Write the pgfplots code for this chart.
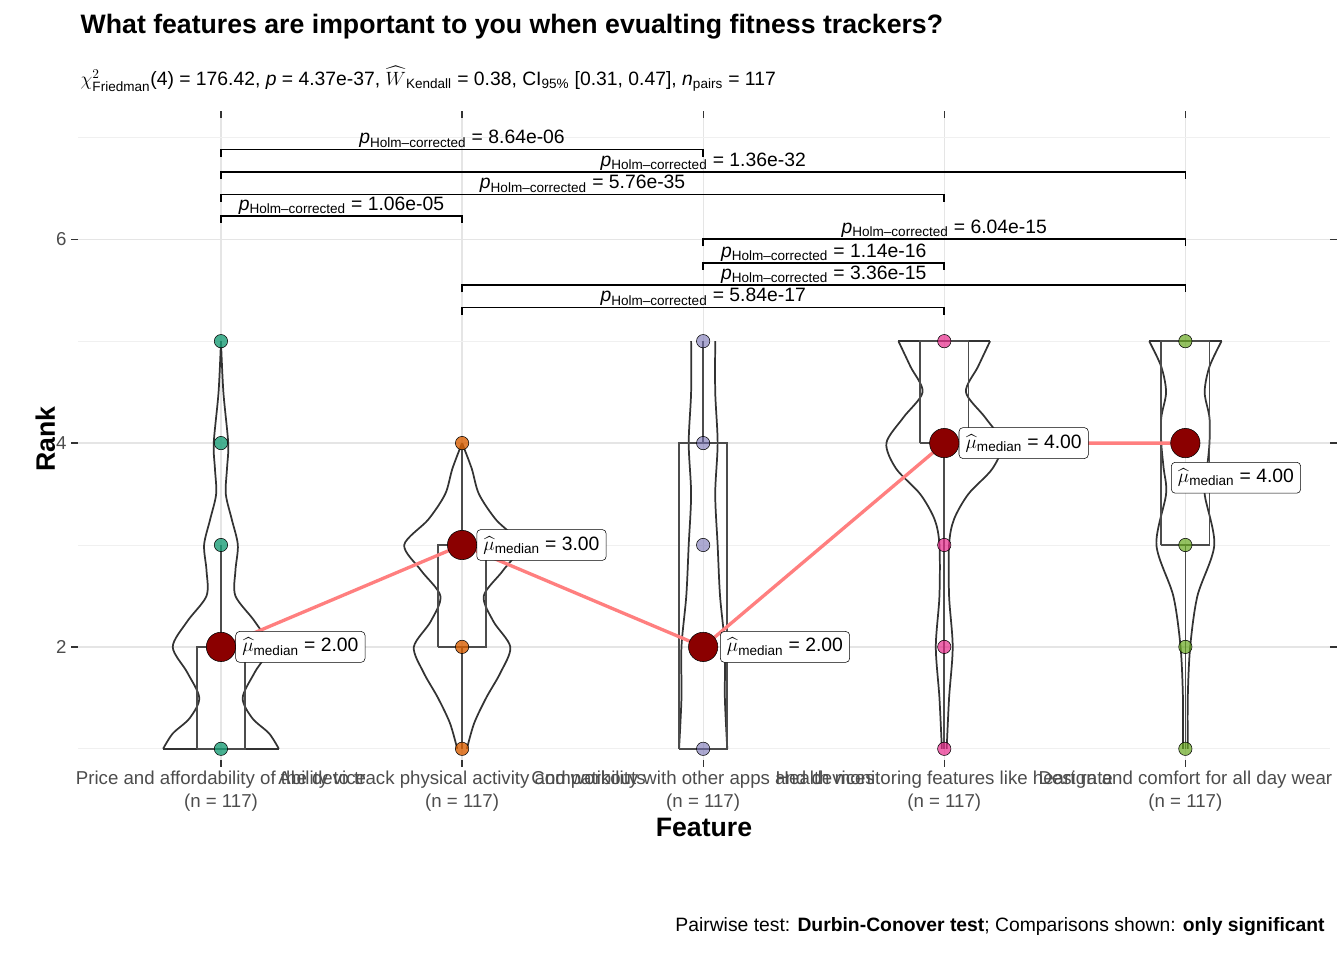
\documentclass[border=0pt]{standalone}
\usepackage{pgfplots}
\pgfplotsset{compat=1.18}
\usepackage{pgfplotstable}
\usepackage{amsmath}
\usepackage{fontspec}
\setmainfont{Liberation Sans}
\definecolor{cA}{HTML}{1B9E77}\definecolor{cB}{HTML}{D95F02}\definecolor{cC}{HTML}{7570B3}
\definecolor{cD}{HTML}{E7298A}\definecolor{cE}{HTML}{66A61E}
\definecolor{dred}{HTML}{8B0000}\definecolor{lred}{HTML}{FF7F7F}
\definecolor{vline}{HTML}{333333}
\pgfplotstableread{
y hw
1 .24
1.15 .2
1.3 .13
1.5 .09
1.75 .14
2 .2
2.25 .14
2.5 .06
2.75 .06
3 .07
3.25 .045
3.5 .02
3.75 .025
4 .03
4.5 .01
5 0
}\vA
\pgfplotstableread{
y hw
1 .02
1.25 .05
1.5 .1
1.75 .16
2 .2
2.25 .13
2.5 .09
2.75 .17
3 .24
3.25 .14
3.5 .07
3.75 .04
4 0
}\vB
\pgfplotstableread{
y hw
1 .1
1.5 .09
2 .09
2.5 .07
3 .06
3.5 .05
4 .06
4.5 .05
5 .05
}\vC
\pgfplotstableread{
y hw
1 .01
1.5 .02
2 .035
2.5 .02
3 .02
3.25 .04
3.5 .1
3.75 .2
4 .24
4.25 .17
4.5 .09
4.75 .14
5 .19
}\vD
\pgfplotstableread{
y hw
1 .01
1.5 .01
2 .02
2.5 .05
3 .12
3.5 .08
3.75 .09
4 .1
4.25 .1
4.5 .08
4.75 .1
5 .15
}\vE
\newcommand{\violin}[2]{%
 \addplot[vline,line width=1.3pt,smooth] table[x expr=#1+\thisrow{hw},y=y]{#2};
 \addplot[vline,line width=1.3pt,smooth] table[x expr=#1-\thisrow{hw},y=y]{#2};}
\newcommand{\pl}[1]{\textit{p}\textsubscript{Holm--corrected} = #1}
\newcommand{\mlab}[1]{$\widehat{\mu}$\textsubscript{median} = #1}
\begin{document}
\begin{tikzpicture}
\path (0pt,0pt) rectangle (1008pt,-720pt);
\node[anchor=west,font=\bfseries\fontsize{20}{24}\selectfont] at (57pt,-20pt) {What features are important to you when evualting fitness trackers?};
\node[anchor=west,font=\fontsize{14.5}{17}\selectfont] at (57pt,-59pt) {$\chi^2_{\text{Friedman}}$(4) = 176.42, \textit{p} = 4.37e-37, $\widehat{W}$\textsubscript{Kendall} = 0.38, CI\textsubscript{95\%} [0.31, 0.47], \textit{n}\textsubscript{pairs} = 117};
\node[anchor=east,font=\fontsize{14.5}{17}\selectfont] at (997pt,-695pt) {Pairwise test: \textbf{Durbin-Conover test}; Comparisons shown: \textbf{only significant}};
\begin{axis}[at={(58.5pt,-570pt)},anchor=south west,scale only axis,width=939pt,height=481.5pt,
 xmin=0.407,xmax=5.6,ymin=0.89,ymax=7.19,axis line style={draw=none},
 /pgf/number format/assume math mode=true,
 xtick={1,2,3,4,5},
 xticklabels={{Price and affordability of the device}\\(n = 117),{Ability to track physical activity and workouts}\\(n = 117),{Compatibility with other apps and devices}\\(n = 117),{Health monitoring features like heart rate}\\(n = 117),{Design and comfort for all day wear}\\(n = 117)},
 xticklabel style={align=center,text=black!70,font=\fontsize{14}{17}\selectfont},
 ytick={2,4,6},minor ytick={1,3,5,7},
 yticklabel style={text=black!70,font=\fontsize{14}{17}\selectfont},
 grid=both,major grid style={black!10,line width=1pt},minor grid style={black!6,line width=0.7pt},
 tick style={black!80,line width=1pt},major tick length=5pt,minor tick length=0pt,tick align=outside,
 xlabel={\bfseries Feature},ylabel={\bfseries Rank},
 label style={font=\fontsize{20}{24}\selectfont},
 ylabel style={yshift=-6pt},xlabel style={yshift=2pt},
 clip=false]
\violin{1}{\vA}\violin{2}{\vB}\violin{3}{\vC}\violin{4}{\vD}\violin{5}{\vE}
\addplot[vline,line width=1.3pt] coordinates {(0.76,1)(1.24,1)};
\addplot[vline,line width=1.3pt] coordinates {(2.9,1)(3.1,1)};
\addplot[vline,line width=1.3pt] coordinates {(3.81,5)(4.19,5)};
\addplot[vline,line width=1.3pt] coordinates {(4.85,5)(5.15,5)};
\addplot[black!70,line width=1.3pt] coordinates {(0.9,1)(1.1,1)(1.1,2)(0.9,2)(0.9,1)};
\addplot[black!70,line width=1.3pt] coordinates {(1,2)(1,3)};
\addplot[black!70,line width=1.3pt] coordinates {(1.9,2)(2.1,2)(2.1,3)(1.9,3)(1.9,2)};
\addplot[black!70,line width=1.3pt] coordinates {(2,1)(2,2)}; \addplot[black!70,line width=1.3pt] coordinates {(2,3)(2,4)};
\addplot[black!70,line width=1.3pt] coordinates {(2.9,1)(3.1,1)(3.1,4)(2.9,4)(2.9,1)};
\addplot[black!70,line width=1.3pt] coordinates {(3,4)(3,5)};
\addplot[black!70,line width=1.3pt] coordinates {(3.9,4)(4.1,4)(4.1,5)(3.9,5)(3.9,4)};
\addplot[black!70,line width=1.3pt] coordinates {(4,4)(4,1)};
\addplot[black!70,line width=1.3pt] coordinates {(4.9,3)(5.1,3)(5.1,5)(4.9,5)(4.9,3)};
\addplot[black!70,line width=1.3pt] coordinates {(5,3)(5,1)};
\addplot[only marks,mark=*,mark size=5pt,draw=none,fill=cA,fill opacity=0.8] coordinates {(1,1)(1,2)(1,3)(1,4)(1,5)};
\addplot[only marks,mark=*,mark size=5pt,draw=none,fill=cB,fill opacity=0.8] coordinates {(2,1)(2,2)(2,3)(2,4)};
\addplot[only marks,mark=*,mark size=5pt,draw=none,fill=cC,fill opacity=0.6] coordinates {(3,1)(3,2)(3,3)(3,4)(3,5)};
\addplot[only marks,mark=*,mark size=5pt,draw=none,fill=cD,fill opacity=0.7] coordinates {(4,1)(4,2)(4,3)(4,4)(4,5)};
\addplot[only marks,mark=*,mark size=5pt,draw=none,fill=cE,fill opacity=0.7] coordinates {(5,1)(5,2)(5,3)(5,4)(5,5)};
\addplot[lred,line width=2.5pt] coordinates {(1,2)(2,3)(3,2)(4,4)(5,4)};
\addplot[only marks,mark=*,mark size=11pt,draw=none,fill=dred] coordinates {(1,2)(2,3)(3,2)(4,4)(5,4)};
\begin{scope}[every node/.style={draw=black,fill=white,rounded corners=3pt,font=\fontsize{14.5}{17}\selectfont,inner sep=5pt}]
\node[anchor=west] at (axis cs:1.06,2) {\mlab{2.00}};
\node[anchor=west] at (axis cs:2.06,3) {\mlab{3.00}};
\node[anchor=west] at (axis cs:3.07,2) {\mlab{2.00}};
\node[anchor=west] at (axis cs:4.06,4) {\mlab{4.00}};
\node at (axis cs:5.21,3.66) {\mlab{4.00}};
\end{scope}
\begin{scope}[every node/.style={anchor=south,font=\fontsize{14.5}{17}\selectfont,inner sep=1pt}]
\addplot[black,line width=1.2pt] coordinates {(1,6.81)(1,6.88)(3,6.88)(3,6.81)}; \node at (axis cs:2,6.88) {\pl{8.64e-06}};
\addplot[black,line width=1.2pt] coordinates {(1,6.59)(1,6.66)(5,6.66)(5,6.59)}; \node at (axis cs:3,6.66) {\pl{1.36e-32}};
\addplot[black,line width=1.2pt] coordinates {(1,6.37)(1,6.44)(4,6.44)(4,6.37)}; \node at (axis cs:2.5,6.44) {\pl{5.76e-35}};
\addplot[black,line width=1.2pt] coordinates {(1,6.16)(1,6.23)(2,6.23)(2,6.16)}; \node at (axis cs:1.5,6.23) {\pl{1.06e-05}};
\addplot[black,line width=1.2pt] coordinates {(3,5.93)(3,6.0)(5,6.0)(5,5.93)}; \node at (axis cs:4,6.0) {\pl{6.04e-15}};
\addplot[black,line width=1.2pt] coordinates {(3,5.70)(3,5.77)(4,5.77)(4,5.70)}; \node at (axis cs:3.5,5.77) {\pl{1.14e-16}};
\addplot[black,line width=1.2pt] coordinates {(2,5.48)(2,5.55)(5,5.55)(5,5.48)}; \node at (axis cs:3.5,5.55) {\pl{3.36e-15}};
\addplot[black,line width=1.2pt] coordinates {(2,5.26)(2,5.33)(4,5.33)(4,5.26)}; \node at (axis cs:3,5.33) {\pl{5.84e-17}};
\end{scope}
\end{axis}
\end{tikzpicture}
\end{document}
